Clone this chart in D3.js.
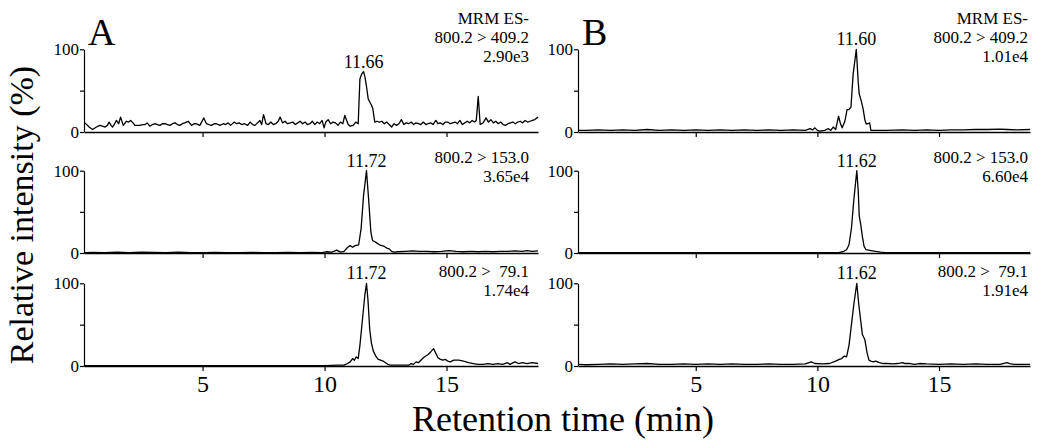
<!DOCTYPE html>
<html>
<head>
<meta charset="utf-8">
<script src="https://cdn.jsdelivr.net/npm/d3@7"></script>
<style>
  html, body { margin: 0; padding: 0; background: #fff; }
  svg { display: block; }
  text { font-family: "Liberation Serif", "Times New Roman", serif; fill: #000; }
</style>
</head>
<body>
<script>
// ---------------- DATA ----------------
// Panel A, trace 800.2 > 409.2 (time min, relative intensity %)
const a1Time = [0.18,0.35,0.49,0.65,0.79,0.9,1.0,1.1,1.17,1.25,1.31,1.4,1.47,1.56,1.64,1.75,1.88,1.97,2.05,2.15,2.23,2.33,2.43,2.54,2.64,2.73,2.84,2.95,3.05,3.15,3.25,3.35,3.46,3.56,3.66,3.77,3.87,3.97,4.07,4.17,4.27,4.34,4.41,4.55,4.65,4.75,4.82,4.89,5.05,5.16,5.26,5.37,5.47,5.57,5.71,5.85,5.95,6.05,6.15,6.3,6.4,6.5,6.6,6.72,6.85,6.95,7.05,7.15,7.25,7.35,7.42,7.5,7.6,7.7,7.8,7.9,8.0,8.1,8.18,8.28,8.38,8.48,8.6,8.7,8.8,8.9,9.0,9.1,9.2,9.3,9.4,9.5,9.6,9.7,9.8,9.9,9.98,10.05,10.15,10.25,10.35,10.45,10.55,10.65,10.75,10.83,10.97,11.05,11.17,11.28,11.38,11.45,11.52,11.6,11.66,11.72,11.79,11.86,11.93,11.98,12.06,12.15,12.25,12.35,12.45,12.55,12.65,12.75,12.85,12.95,13.05,13.15,13.25,13.35,13.45,13.55,13.65,13.75,13.85,13.95,14.05,14.15,14.25,14.35,14.45,14.56,14.65,14.75,14.85,14.95,15.05,15.15,15.25,15.35,15.45,15.55,15.65,15.75,15.85,15.95,16.05,16.15,16.22,16.3,16.38,16.5,16.62,16.72,16.82,16.92,17.02,17.12,17.22,17.32,17.42,17.52,17.62,17.72,17.82,17.92,18.02,18.12,18.22,18.32,18.42,18.52,18.62,18.75];
const a1Val  = [11,6,3,6,8,7,6,8,12,8,6,10,14,10,18,8,13,12,14,11,8,8,8,9,9,11,7,9,10,9,8,10,10,9,8,10,11,9,8,10,11,12,13,8,10,10,9,8,17,10,9,8,10,10,8,10,9,11,8,12,10,11,9,10,8,12,9,8,11,14,9,21,10,9,12,9,10,13,18,11,13,10,11,12,9,11,13,10,12,9,10,13,9,12,10,14,5,12,15,10,12,11,8,12,10,20,9,7,8,12,10,64,70,73,66,55,40,36,32,28,12,13,12,13,10,12,9,6,10,8,10,15,9,11,10,12,9,11,10,9,12,9,10,11,9,14,10,11,9,12,12,10,11,12,10,14,9,11,13,11,14,12,14,43,9,11,17,12,15,11,13,10,12,9,8,10,11,12,10,12,13,11,14,12,13,14,15,18];

// Panel A, trace 800.2 > 153.0
const a2Time = [0.14,0.5,1.0,1.5,2.0,2.5,3.0,3.5,4.0,4.5,5.0,5.5,6.0,6.5,7.0,7.5,8.0,8.5,9.0,9.5,9.9,10.1,10.3,10.5,10.65,10.8,10.95,11.05,11.15,11.25,11.4,11.5,11.6,11.72,11.82,11.9,11.97,12.05,12.15,12.25,12.35,12.45,12.55,12.65,12.75,12.85,13.0,13.3,13.6,13.9,14.2,14.5,14.8,15.1,15.4,15.7,16.0,16.3,16.6,16.9,17.2,17.5,17.8,18.1,18.3,18.5,18.75];
const a2Val  = [0.5,0.8,0.5,1,0.5,1,0.8,0.5,1,0.5,0.5,0.8,0.5,0.5,0.8,0.5,0.5,0.8,0.5,0.8,0.5,1.5,1,3.5,1,2,7,9,7,9,10,30,70,100,60,25,15,14,12,10,9,8,6,5,2,1,1.5,2,2.5,2,2,1.5,2,3,2,1.5,2,1.5,2,1.5,2,2,2.5,2,3,2,2.5];

// Panel A, trace 800.2 > 79.1
const a3Time = [0.14,1.0,2.0,3.0,4.0,5.0,6.0,7.0,8.0,9.0,10.0,10.6,10.8,10.95,11.05,11.15,11.22,11.3,11.38,11.45,11.55,11.65,11.72,11.78,11.85,11.92,12.0,12.1,12.2,12.3,12.4,12.5,12.6,12.7,12.9,13.2,13.45,13.55,13.65,13.75,13.85,13.95,14.05,14.15,14.25,14.35,14.47,14.55,14.65,14.75,14.85,14.95,15.05,15.15,15.3,15.5,15.7,15.9,16.1,16.3,16.5,16.7,16.9,17.1,17.3,17.5,17.6,17.8,17.95,18.1,18.3,18.5,18.75];
const a3Val  = [0.3,0.3,0.5,0.3,0.3,0.5,0.3,0.3,0.5,0.3,0.5,1,1,3,5,9,7,11,9,25,55,85,100,80,45,28,18,12,8,7,6,4,2,1,1,1,1,3,2,5,4,7,10,12,14,17,21,16,10,8,7,8,6,5,7,7,6,4,3,2,2,3,2,3,2,4,2,5,3,4,3,4,3];

// Panel B, trace 800.2 > 409.2
const b1Time = [0.16,0.5,1.0,1.5,2.0,2.5,3.0,3.5,4.0,4.5,5.0,5.5,6.0,6.5,7.0,7.5,8.0,8.5,9.0,9.5,9.7,9.8,9.9,10.0,10.1,10.3,10.45,10.55,10.65,10.75,10.87,10.95,11.02,11.13,11.22,11.3,11.38,11.47,11.6,11.68,11.72,11.8,11.88,11.95,12.0,12.08,12.15,12.2,12.4,12.8,13.5,14.0,14.5,15.0,15.5,16.0,16.5,17.0,17.5,17.8,18.2,18.74];
const b1Val  = [2,2,2.5,2,2.5,2,3,2,2.5,2,2.5,2,2.5,2,2.5,2,2.5,2,2.5,2,4,2.5,5,2,1,2,4,2,6,3,19,10,5,13,27,27,30,70,100,60,46,38,28,15,10,10,11,2,2,2,2.5,2,2.5,2,2.5,2.5,3,3,3.5,3,2.5,3];

// Panel B, trace 800.2 > 153.0
const b2Time = [0.16,2.0,4.0,6.0,8.0,10.0,10.9,11.05,11.2,11.3,11.4,11.5,11.62,11.68,11.72,11.78,11.85,11.92,12.0,12.2,12.4,12.6,12.8,14.0,16.0,18.74];
const b2Val  = [0.5,0.5,0.5,0.5,0.5,0.5,0.8,1.5,4,10,30,65,100,75,45,35,20,8,4,3,2,1,0.5,0.5,0.5,0.5];

// Panel B, trace 800.2 > 79.1
const b3Time = [0.16,0.5,1.0,1.5,2.0,2.5,3.0,3.5,4.0,4.5,5.0,5.5,6.0,6.5,7.0,7.5,8.0,8.5,9.0,9.5,9.75,9.9,10.2,10.5,10.75,10.9,11.0,11.1,11.2,11.3,11.4,11.5,11.62,11.7,11.78,11.85,11.95,12.05,12.12,12.2,12.3,12.4,12.55,12.7,12.9,13.1,13.3,13.5,13.6,13.8,14.0,14.2,14.5,15.0,15.5,16.0,16.5,17.0,17.5,17.8,17.9,18.1,18.74];
const b3Val  = [2,1.5,2,2.5,2,2.5,3,2,2,2.5,2,2.5,2,2.5,2,2,2.5,2,2,2.5,5,3,2.5,3,6,8,9,12,11,25,50,75,100,75,55,38,32,15,7,6,5,6,4,3,3,2.5,3,4,3,3,2,3,2.5,2,2.5,2,2.5,2,2,4,3,2,2];

// Labels
const panelLetters = ["A", "B"];
const peakLabelsA = ["11.66", "11.72", "11.72"];
const peakLabelsB = ["11.60", "11.62", "11.62"];
const annotA = [["MRM ES-", "800.2 > 409.2", "2.90e3"], ["800.2 > 153.0", "3.65e4"], ["800.2 >  79.1", "1.74e4"]];
const annotB = [["MRM ES-", "800.2 > 409.2", "1.01e4"], ["800.2 > 153.0", "6.60e4"], ["800.2 >  79.1", "1.91e4"]];
const xTicks = [5, 10, 15];
const yTicks = [0, 50, 100];
const yTickLabels = {0: "0", 50: "", 100: "100"};
const yTitle = "Relative intensity (%)";
const xTitle = "Retention time (min)";

// ---------------- LAYOUT ----------------
const W = 1050, H = 444;
const svg = d3.select("body").append("svg").attr("width", W).attr("height", H);
svg.append("rect").attr("width", W).attr("height", H).attr("fill", "#fff");

const columns = [
  { letter: panelLetters[0], x0: 84, x1: 538, d0: 0.14, d1: 18.75, annotRight: 529,
    traces: [[a1Time, a1Val], [a2Time, a2Val], [a3Time, a3Val]], peaks: peakLabelsA, annots: annotA },
  { letter: panelLetters[1], x0: 578, x1: 1030, d0: 0.16, d1: 18.74, annotRight: 1028,
    traces: [[b1Time, b1Val], [b2Time, b2Val], [b3Time, b3Val]], peaks: peakLabelsB, annots: annotB }
];
const rows = [[49.3, 132], [170.7, 253], [283.3, 366]];
const annotBaselines = [[24, 43, 62], [163, 182], [277, 296]];

columns.forEach((col, ci) => {
  const x = d3.scaleLinear().domain([col.d0, col.d1]).range([col.x0, col.x1]);
  rows.forEach((r, ri) => {
    const y = d3.scaleLinear().domain([0, 100]).range([r[1], r[0]]);
    const g = svg.append("g");
    // x axis
    const xAxis = d3.axisBottom(x).tickValues(xTicks).tickSize(5).tickSizeOuter(0)
      .tickFormat(ri === 2 ? d3.format("d") : () => "");
    const gx = g.append("g").attr("transform", `translate(0,${r[1]})`).call(xAxis);
    gx.select(".domain").attr("stroke", "#000").attr("stroke-width", 1.4);
    gx.selectAll(".tick line").attr("stroke", "#000").attr("stroke-width", 1.2);
    gx.selectAll(".tick text").attr("font-size", 24).attr("y", 26).attr("dy", 0)
      .style("font-family", '"Liberation Serif", serif');
    // y axis
    const yAxis = d3.axisLeft(y).tickValues(yTicks).tickSize(4).tickSizeOuter(0)
      .tickFormat(d => yTickLabels[d]);
    const gy = g.append("g").attr("transform", `translate(${col.x0},0)`).call(yAxis);
    gy.select(".domain").attr("stroke", "#000").attr("stroke-width", 1.2);
    gy.selectAll(".tick line").attr("stroke", "#000").attr("stroke-width", 1.2);
    gy.selectAll(".tick text").attr("font-size", 17).attr("x", -5)
      .style("font-family", '"Liberation Serif", serif');
    // trace
    const [tArr, vArr] = col.traces[ri];
    const pts = tArr.map((t, i) => [t, vArr[i]]);
    const line = d3.line().x(d => x(d[0])).y(d => y(d[1]));
    g.append("path").datum(pts).attr("d", line)
      .attr("fill", "none").attr("stroke", "#000").attr("stroke-width", 1.3)
      .attr("stroke-linejoin", "round");
    // peak label at max point
    const imax = d3.maxIndex(vArr);
    g.append("text").attr("x", x(tArr[imax])).attr("y", y(vArr[imax]) - 4)
      .attr("text-anchor", "middle").attr("font-size", 18).text(col.peaks[ri]);
    // annotation text
    col.annots[ri].forEach((s, li) => {
      g.append("text").attr("x", col.annotRight).attr("y", annotBaselines[ri][li])
        .attr("text-anchor", "end").attr("font-size", 17)
        .style("white-space", "pre").text(s);
    });
  });
  // panel letter
  svg.append("text").attr("x", col.x0 + 4).attr("y", 45).attr("font-size", 38).text(col.letter);
});

// axis titles
svg.append("text").attr("transform", "translate(33,215) rotate(-90)")
  .attr("text-anchor", "middle").attr("font-size", 34).text(yTitle);
svg.append("text").attr("x", 563).attr("y", 431)
  .attr("text-anchor", "middle").attr("font-size", 36).text(xTitle);
</script>
</body>
</html>
